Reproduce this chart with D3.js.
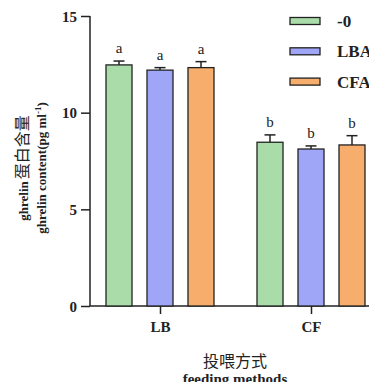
<!DOCTYPE html>
<html>
<head>
<meta charset="utf-8">
<script src="https://cdn.jsdelivr.net/npm/d3@7"></script>
<style>
  body { margin: 0; background: #fff; }
  text { font-family: "Liberation Serif", "Times New Roman", serif; font-weight: bold; fill: #222; }
</style>
</head>
<body>
<div id="chart"></div>
<script>
var groups = ["LB", "CF"];
var series = ["-0", "LBA", "CFA"];
var colors = ["#a9dca9", "#a0a6f7", "#f7ae6c"];
var means = [[12.47, 12.2, 12.33], [8.47, 8.12, 8.33]];
var errs = [[0.2, 0.13, 0.31], [0.38, 0.16, 0.48]];
var letters = [["a", "a", "a"], ["b", "b", "b"]];
var yTicks = [0, 5, 10, 15];

var width = 369, height = 382;
var svg = d3.select("#chart").append("svg").attr("width", width).attr("height", height);

var y = d3.scaleLinear().domain([0, 15]).range([306, 16]);
var x0 = d3.scalePoint().domain(groups).range([160, 311]);
var x1 = d3.scalePoint().domain(series).range([-41, 41]);
var barW = 26;

// y axis
var yAxis = svg.append("g").attr("transform", "translate(90,0)")
  .call(d3.axisLeft(y).tickValues(yTicks).tickSize(9).tickPadding(4).tickFormat(d3.format("d")));
yAxis.select(".domain").attr("d", "M0," + y(15) + "V" + y(0));
yAxis.selectAll("line, path").attr("stroke", "#222").attr("stroke-width", 1.5);
yAxis.selectAll("text").style("font-size", "15px").attr("dy", "0.35em");

// x axis
var xAxis = svg.append("g").attr("transform", "translate(0," + y(0) + ")")
  .call(d3.axisBottom(x0).tickSize(8).tickPadding(7));
xAxis.select(".domain").attr("d", "M90,0H" + width);
xAxis.selectAll("line, path").attr("stroke", "#222").attr("stroke-width", 1.5);
xAxis.selectAll("text").style("font-size", "15px");

// bars
groups.forEach(function(g, gi) {
  series.forEach(function(s, si) {
    var cx = x0(g) + x1(s);
    var v = means[gi][si], e = errs[gi][si];
    svg.append("line").attr("x1", cx).attr("x2", cx).attr("y1", y(v)).attr("y2", y(v + e))
      .attr("stroke", "#222").attr("stroke-width", 1.5);
    svg.append("line").attr("x1", cx - 5.5).attr("x2", cx + 5.5).attr("y1", y(v + e)).attr("y2", y(v + e))
      .attr("stroke", "#222").attr("stroke-width", 1.5);
    svg.append("rect").attr("x", cx - barW / 2).attr("y", y(v)).attr("width", barW).attr("height", y(0) - y(v))
      .attr("fill", colors[si]).attr("stroke", "#222").attr("stroke-width", 1.3);
    svg.append("text").attr("x", cx).attr("y", y(v + e) - 8).attr("text-anchor", "middle")
      .style("font-size", "15px").style("font-weight", "normal").text(letters[gi][si]);
  });
});

// legend
series.forEach(function(s, i) {
  var ly = 21 + i * 30.3;
  svg.append("rect").attr("x", 290).attr("y", ly - 3.5).attr("width", 30).attr("height", 7)
    .attr("fill", colors[i]).attr("stroke", "#222").attr("stroke-width", 1.3);
  svg.append("text").attr("x", 337).attr("y", ly).attr("dy", "0.35em").style("font-size", "17px").text(s);
});

// y title
var yt = svg.append("g").attr("transform", "translate(0,168) rotate(-90)");
var t1 = yt.append("text").attr("x", 0).attr("y", 28).attr("text-anchor", "middle").style("font-size", "13px");
t1.append("tspan").text("ghrelin");
t1.append("tspan").attr("dx", 2).style("font-family", "'Noto Sans CJK SC', sans-serif").style("font-size", "16px")
  .style("font-weight", "normal").text("蛋白含量");
var t2 = yt.append("text").attr("x", 0).attr("y", 46).attr("text-anchor", "middle").style("font-size", "13px");
t2.append("tspan").text("ghrelin content(pg ml");
t2.append("tspan").attr("dy", -5).style("font-size", "9px").text("-1");
t2.append("tspan").attr("dy", 5).text(")");

// x title
svg.append("text").attr("x", 235).attr("y", 367).attr("text-anchor", "middle")
  .style("font-size", "16px").style("font-weight", "normal").style("font-family", "'Noto Sans CJK SC', sans-serif")
  .text("投喂方式");
svg.append("text").attr("x", 235).attr("y", 384).attr("text-anchor", "middle").style("font-size", "15px")
  .text("feeding methods");
</script>
</body>
</html>
